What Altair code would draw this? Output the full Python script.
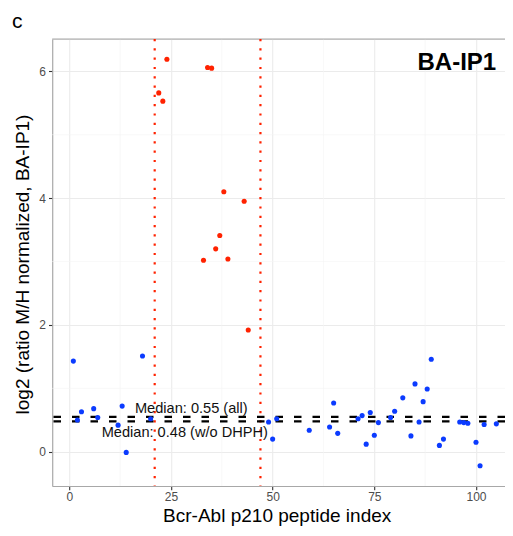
import altair as alt
import pandas as pd

# DHPH peptides (red)
red_idx = [22, 23, 24, 33, 34, 35, 36, 37, 38, 39, 43, 44]
red_val = [5.66, 5.53, 6.19, 3.02, 6.06, 6.05, 3.20, 3.41, 4.10, 3.04, 3.95, 1.92]
# other peptides (blue)
blue_idx = [1, 2, 3, 6, 7, 12, 13, 14, 18, 20, 49, 50, 51, 59, 64, 65, 66, 71, 72, 73,
            74, 75, 76, 79, 80, 82, 84, 85, 86, 87, 88, 89, 91, 92, 96, 97, 98, 100, 101,
            102, 105]
blue_val = [1.43, 0.50, 0.63, 0.68, 0.54, 0.42, 0.72, -0.01, 1.51, 0.52, 0.47, 0.20, 0.52,
            0.34, 0.39, 0.77, 0.29, 0.52, 0.57, 0.12, 0.62, 0.26, 0.46, 0.54, 0.64, 0.85,
            0.25, 1.07, 0.47, 0.79, 0.99, 1.46, 0.10, 0.20, 0.47, 0.46, 0.45, 0.15, -0.22,
            0.43, 0.44]

vlines = [21, 47]
medians = [0.55, 0.48]
median_labels = ["Median: 0.55 (all)", "Median: 0.48 (w/o DHPH)"]
median_label_x = [30.0, 28.4]
median_label_y = [0.606, 0.237]

x_ticks = [0, 25, 50, 75, 100]
y_ticks = [0, 2, 4, 6]
x_minor = [12.5, 37.5, 62.5, 87.5]
y_minor = [1, 3, 5]

RED = "#ff2200"
BLUE = "#0b3bff"
FONT = "Liberation Sans"
BORDER = "#a8a8a8"

pts = pd.DataFrame({
    "idx": red_idx + blue_idx,
    "val": red_val + blue_val,
    "grp": ["DHPH"] * len(red_idx) + ["other"] * len(blue_idx),
})

xs = alt.Scale(domain=[-4.2, 107.13], nice=False, zero=False)
ys = alt.Scale(domain=[-0.54, 6.51], nice=False, zero=False)

x_axis = alt.Axis(
    values=x_ticks, title="Bcr-Abl p210 peptide index", grid=True,
    gridColor="#ebebeb", gridWidth=1.1, domain=True, domainColor=BORDER, domainWidth=1.1,
    tickColor="#333333", tickSize=3.7, tickWidth=1.1,
    labelFont=FONT, labelFontSize=12, labelColor="#4d4d4d", labelPadding=2,
    titleFont=FONT, titleFontSize=19, titleFontWeight="normal", titleColor="black",
    titleX=224.5, titleY=35.5, titleBaseline="alphabetic")
y_axis = alt.Axis(
    values=y_ticks, title="log2 (ratio M/H normalized, BA-IP1)", grid=True,
    gridColor="#ebebeb", gridWidth=1.1, domain=True, domainColor=BORDER, domainWidth=1.1,
    tickColor="#333333", tickSize=3.7, tickWidth=1.1,
    labelFont=FONT, labelFontSize=12, labelColor="#4d4d4d", labelPadding=3,
    titleFont=FONT, titleFontSize=19, titleFontWeight="normal", titleColor="black",
    titleX=-23.5, titleY=225, titleBaseline="alphabetic")

X = lambda f: alt.X(f, scale=xs, axis=x_axis)
Y = lambda f: alt.Y(f, scale=ys, axis=y_axis)

minor_x = alt.Chart(pd.DataFrame({"v": x_minor})).mark_rule(
    color="#f3f3f3", strokeWidth=0.6).encode(x=X("v:Q"))
minor_y = alt.Chart(pd.DataFrame({"v": y_minor})).mark_rule(
    color="#f3f3f3", strokeWidth=0.6).encode(y=Y("v:Q"))

top_border = alt.Chart(pd.DataFrame({"v": [0]})).mark_rule(
    color=BORDER, strokeWidth=1.1).encode(y=alt.value(0))

points = alt.Chart(pts).mark_circle(size=26, opacity=1).encode(
    x=X("idx:Q"),
    y=Y("val:Q"),
    color=alt.Color("grp:N", scale=alt.Scale(domain=["DHPH", "other"], range=[RED, BLUE]),
                    legend=None),
)

vl = alt.Chart(pd.DataFrame({"v": vlines})).mark_rule(
    color=RED, strokeWidth=2.2, strokeDash=[2.2, 7.1]).encode(x=X("v:Q"))

hl = alt.Chart(pd.DataFrame({"v": medians})).mark_rule(
    color="black", strokeWidth=2.4, strokeDash=[7.5, 11]).encode(y=Y("v:Q"))

txt = alt.Chart(pd.DataFrame({"x": median_label_x, "y": median_label_y,
                              "t": median_labels})).mark_text(
    font=FONT, fontSize=14.6, align="center", baseline="alphabetic", color="#111111").encode(
    x=X("x:Q"), y=Y("y:Q"), text="t:N")

label = alt.Chart(pd.DataFrame({"x": [95.3], "y": [6.015], "t": ["BA-IP1"]})).mark_text(
    font=FONT, fontSize=24, fontWeight="bold", align="center", baseline="alphabetic",
    color="black").encode(x=X("x:Q"), y=Y("y:Q"), text="t:N")

panel_tag = alt.Chart(pd.DataFrame({"x": [-14.1], "y": [6.68], "t": ["c"]})).mark_text(
    font=FONT, fontSize=21, align="left", baseline="alphabetic", color="black",
    clip=False).encode(x=X("x:Q"), y=Y("y:Q"), text="t:N")

chart = alt.layer(minor_x, minor_y, top_border, vl, hl, points, txt, label,
                  panel_tag).properties(
    width=452.8, height=447,
    autosize=alt.AutoSizeParams(type="none"),
    padding={"left": 44.2, "top": 31, "right": 0, "bottom": 40},
).configure_view(stroke=None).configure(background="white")

chart.save("out.html", embed_options={"renderer": "svg", "actions": False})
